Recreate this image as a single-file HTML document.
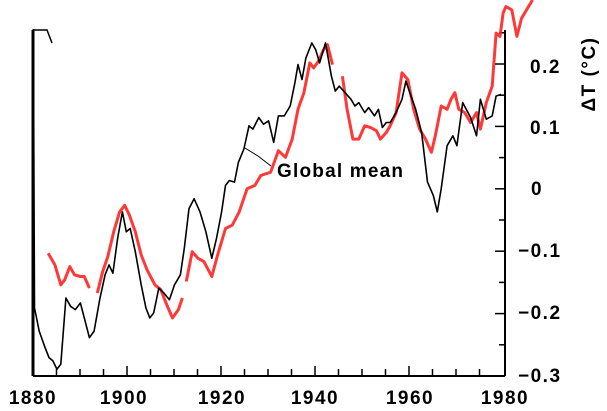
<!DOCTYPE html>
<html><head><style>body{margin:0;background:#fff}svg{display:block}</style></head><body>
<svg id="s" width="607" height="411" viewBox="0 0 607 411" xmlns="http://www.w3.org/2000/svg" font-family="Liberation Sans, sans-serif" font-weight="bold">
<rect width="607" height="411" fill="#fff"/>
<line x1="33" y1="30" x2="33" y2="376" stroke="#000" stroke-width="3"/>
<line x1="33" y1="376" x2="505" y2="376" stroke="#000" stroke-width="2"/>
<line x1="505" y1="30" x2="505" y2="376" stroke="#000" stroke-width="2"/>
<polyline points="33,30 47,30 52,43" fill="none" stroke="#000" stroke-width="1.5"/>
<g id="ticks" stroke="#000" stroke-width="1.5"></g>
<g font-size="19" fill="#000" letter-spacing="1.5">
<text x="33" y="404" text-anchor="middle">1880</text>
<text x="124" y="404" text-anchor="middle">1900</text>
<text x="222" y="404" text-anchor="middle">1920</text>
<text x="315" y="404" text-anchor="middle">1940</text>
<text x="410" y="404" text-anchor="middle">1960</text>
<text x="505" y="404" text-anchor="middle">1980</text>
<text x="530" y="73">0.2</text>
<text x="530" y="134">0.1</text>
<text x="531" y="195">0</text>
<text x="518" y="257">−0.1</text>
<text x="518" y="319">−0.2</text>
<text x="518" y="382">−0.3</text>
<text transform="translate(595,74) rotate(-90)" text-anchor="middle">ΔT (°C)</text>
<text x="277" y="177" letter-spacing="1.2">Global mean</text>
</g>
<polyline points="271,166 258,156 245,148" fill="none" stroke="#000" stroke-width="1"/>
<g id="lines"></g>
</svg>
<script>
var sx=2.55, sy=3.02;
function P(a){var s=[];for(var i=0;i<a.length;i+=2)s.push((a[i]/sx).toFixed(1)+","+(a[i+1]/sy).toFixed(1));return s.join(" ");}
var black=[85,88,88,930,100,1000,115,1050,125,1080,135,1090,145,1115,155,1100,168,900,180,925,192,935,205,915,215,960,228,1020,240,1000,255,900,268,830,278,800,288,825,300,720,312,640,322,700,332,690,345,760,360,860,372,930,382,960,392,945,405,870,418,885,432,905,445,860,460,830,470,750,482,630,495,600,510,640,525,700,540,780,552,720,565,640,575,560,585,545,598,550,608,490,622,450,635,380,645,390,660,355,672,375,685,365,698,430,710,350,725,350,740,320,752,250,760,195,770,240,780,175,795,130,805,150,815,190,830,130,845,230,855,275,865,260,880,280,895,300,905,320,915,310,930,340,940,325,955,350,965,330,975,385,985,370,995,370,1010,340,1025,300,1035,245,1045,280,1060,330,1075,400,1090,550,1105,590,1115,640,1125,570,1140,440,1155,410,1165,440,1180,310,1200,355,1215,410,1225,300,1240,360,1255,350,1265,290,1278,285];
var reds=[[123,765,140,800,155,860,165,845,178,805,190,830,205,835,215,835,228,870],
[248,885,262,820,275,775,290,700,305,640,318,620,330,650,345,700,360,770,375,815,395,860,410,875,425,920,440,960,455,935,465,900],
[475,850,490,760,505,780,520,790,540,835,555,770,575,690,592,680,610,640,630,570,650,560,665,530,690,520,710,455,728,475,745,420,760,330,775,280,790,190,800,205,812,185,825,150,835,135,848,195],
[873,230,885,330,900,420,915,420,930,380,945,385,960,395,970,420,985,400,995,380,1010,340,1025,220,1040,240,1055,330,1070,390,1085,420,1100,460,1110,410,1125,320,1140,330,1150,300,1160,280,1170,330,1185,340,1200,370,1215,340,1225,390,1240,310,1255,260,1265,100,1275,110,1283,40,1290,20,1305,30,1318,110,1330,55,1345,25,1358,0]];
var h='';
reds.forEach(function(r){h+='<polyline points="'+P(r)+'" fill="none" stroke="#f22" stroke-width="3" stroke-linejoin="round" opacity="0.9"/>';});
h+='<polyline points="'+P(black)+'" fill="none" stroke="#000" stroke-width="1.6" stroke-linejoin="round"/>';
document.getElementById('lines').innerHTML=h;
var t='';
for(var y=1885;y<1980;y+=5){var x=33+(y-1880)*4.7;t+='<line x1="'+x+'" y1="376" x2="'+x+'" y2="'+(y%20==0?366:369)+'"/>';}
for(var i=0;i<12;i++){var yy=376-i*31.2;t+='<line x1="505" y1="'+yy+'" x2="'+(i%2==0?495:499)+'" y2="'+yy+'"/>';}
document.getElementById('ticks').innerHTML=t;
</script>
</body></html>
